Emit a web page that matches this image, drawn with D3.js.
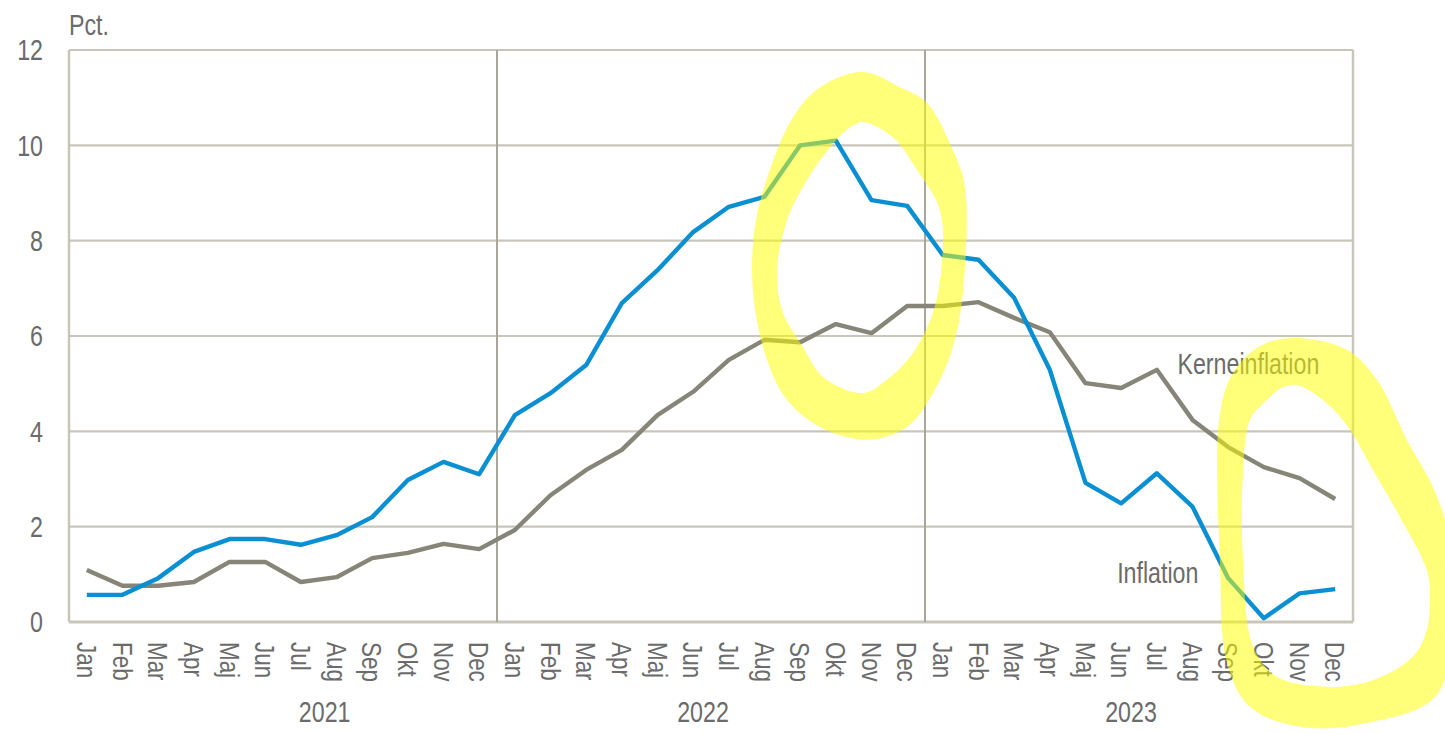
<!DOCTYPE html>
<html>
<head>
<meta charset="utf-8">
<script src="https://cdn.jsdelivr.net/npm/d3@7"></script>
<style>
  html, body { margin: 0; padding: 0; background: #ffffff; }
  svg { display: block; }
  text { font-family: "Liberation Sans", Arial, sans-serif; fill: #6b6b6b; }
</style>
</head>
<body>
<svg id="chart" width="1445" height="733"></svg>
<script>
// ---- data ----
const monthLabels = ["Jan","Feb","Mar","Apr","Maj","Jun","Jul","Aug","Sep","Okt","Nov","Dec"];
const years = ["2021","2022","2023"];
const yTicks = [0, 2, 4, 6, 8, 10, 12];
const yUnit = "Pct.";

const inflation = [
  0.57, 0.57, 0.92, 1.47, 1.74, 1.74, 1.62, 1.82, 2.2, 2.98, 3.36, 3.1,
  4.34, 4.8, 5.39, 6.69, 7.38, 8.18, 8.71, 8.92, 10.0, 10.1, 8.85, 8.73,
  7.7, 7.6, 6.8, 5.29, 2.92, 2.49, 3.12, 2.42, 0.92, 0.08, 0.6, 0.69
];
const kerneinflation = [
  1.09, 0.76, 0.76, 0.84, 1.26, 1.26, 0.84, 0.94, 1.34, 1.45, 1.64, 1.53,
  1.93, 2.66, 3.19, 3.61, 4.34, 4.83, 5.5, 5.92, 5.87, 6.25, 6.06, 6.63,
  6.63, 6.71, 6.38, 6.08, 5.01, 4.91, 5.29, 4.24, 3.67, 3.25, 3.02, 2.58
];
const seriesNames = ["Inflation", "Kerneinflation"];

// hand-drawn highlighter loops, in (month-position, pct) units
const highlight1Outer = [[22.26,11.54],[23.30,11.22],[24.06,10.89],[24.78,9.90],[25.12,9.13],[25.06,6.90],[24.78,5.77],[24.22,4.80],[23.49,4.09],[22.37,3.82],[21.06,4.09],[20.13,4.66],[19.57,5.50],[19.18,6.90],[19.23,8.29],[19.65,9.48],[20.30,10.59],[21.06,11.22]];
const highlight1Inner = [[22.26,10.49],[23.10,10.17],[23.78,9.48],[24.42,8.64],[24.48,7.59],[24.22,6.48],[23.66,5.64],[22.93,5.08],[22.26,4.80],[21.14,5.14],[20.58,5.77],[20.02,6.48],[19.85,7.32],[20.13,8.43],[20.69,9.27],[21.34,9.96],[21.90,10.38]];
const highlight2Outer = [[34.43,5.96],[35.83,5.71],[36.67,5.08],[37.51,3.82],[38.24,2.83],[38.72,1.72],[38.86,0.04],[38.30,-1.57],[36.39,-2.12],[34.51,-2.20],[33.11,-1.78],[32.47,-0.86],[32.27,1.24],[32.27,4.38],[32.69,5.29],[33.45,5.81]];
const highlight2Inner = [[34.43,4.97],[35.27,4.59],[35.92,4.03],[36.56,3.19],[37.32,2.20],[38.07,1.09],[38.16,0.52],[38.07,-0.17],[37.68,-0.73],[36.56,-1.22],[35.27,-1.36],[33.87,-1.15],[33.20,-0.52],[32.92,1.24],[32.92,3.19],[33.11,4.24],[33.53,4.62],[34.04,4.93]];

// ---- layout ----
const W = 1445, H = 733;
const plot = { left: 69, top: 50, right: 1353, bottom: 622 };
const narrow = 0.8; // horizontal squeeze to mimic a narrow sans face
const svg = d3.select("#chart");

const nMonths = years.length * monthLabels.length;
const x = d3.scaleBand().domain(d3.range(nMonths)).range([plot.left, plot.right]).padding(0);
const xu = d3.scaleLinear().domain([0, nMonths]).range([plot.left, plot.right]);
const y = d3.scaleLinear().domain([0, 12]).range([plot.bottom, plot.top]);
const xc = i => x(i) + x.bandwidth() / 2;

const gridColor = "#c8c6bb";
const sepColor = "#a9a79b";

// horizontal grid
svg.append("g").selectAll("line").data(yTicks).join("line")
  .attr("x1", plot.left).attr("x2", plot.right)
  .attr("y1", d => y(d)).attr("y2", d => y(d))
  .attr("stroke", gridColor).attr("stroke-width", d => d === 0 ? 3 : 2.2);

// frame sides
svg.append("line").attr("x1", plot.left).attr("x2", plot.left).attr("y1", plot.top).attr("y2", plot.bottom)
  .attr("stroke", gridColor).attr("stroke-width", 2.5);
svg.append("line").attr("x1", plot.right).attr("x2", plot.right).attr("y1", plot.top).attr("y2", plot.bottom)
  .attr("stroke", gridColor).attr("stroke-width", 2.5);

// year separators
svg.append("g").selectAll("line").data(d3.range(1, years.length)).join("line")
  .attr("x1", d => x(d * 12)).attr("x2", d => x(d * 12))
  .attr("y1", plot.top).attr("y2", plot.bottom)
  .attr("stroke", sepColor).attr("stroke-width", 2);

function label(g, tx, ty, rot, str, size, anchor, dy) {
  const t = g.append("text")
    .attr("transform", `translate(${tx},${ty})` + (rot ? ` rotate(${rot})` : "") + ` scale(${narrow},1)`)
    .attr("font-size", size)
    .attr("text-anchor", anchor || "start")
    .text(str);
  if (dy) t.attr("dy", dy);
  return t;
}

const gy = svg.append("g");
yTicks.forEach(d => label(gy, 43, y(d), 0, d, 29, "end", "0.36em"));
label(svg, plot.left, 35, 0, yUnit, 29, "start");

// month labels (rotated, reading downward)
const gm = svg.append("g");
d3.range(nMonths).forEach(i => label(gm, xc(i), plot.bottom + 20, 90, monthLabels[i % 12], 28, "start", "0.35em"));

// year labels
const gyear = svg.append("g");
years.forEach((d, i) => label(gyear, i === 0 ? x(i * 12 + 7) + 6 : x(i * 12 + 6) - 8, 722, 0, d, 29, "middle"));

// lines
const line = d3.line().x((d, i) => xc(i)).y(d => y(d));
svg.append("path").datum(kerneinflation)
  .attr("d", line).attr("fill", "none")
  .attr("stroke", "#878577").attr("stroke-width", 4.4).attr("stroke-linejoin", "round");
svg.append("path").datum(inflation)
  .attr("d", line).attr("fill", "none")
  .attr("stroke", "#0a8fd3").attr("stroke-width", 4.4).attr("stroke-linejoin", "round");

// series labels
label(svg, xc(31) - 15, y(5.2), 0, seriesNames[1], 29, "start");
label(svg, xc(29) - 4, y(0.82), 0, seriesNames[0], 29, "start");

// highlighter loops
const loop = d3.line().x(d => xu(d[0])).y(d => y(d[1])).curve(d3.curveCatmullRomClosed.alpha(0.5));
[[highlight1Outer, highlight1Inner], [highlight2Outer, highlight2Inner]].forEach(([o, inn]) => {
  svg.append("path")
    .attr("d", loop(o) + loop(inn))
    .attr("fill", "#ffff00")
    .attr("fill-rule", "evenodd")
    .attr("opacity", 0.52);
});
</script>
</body>
</html>
